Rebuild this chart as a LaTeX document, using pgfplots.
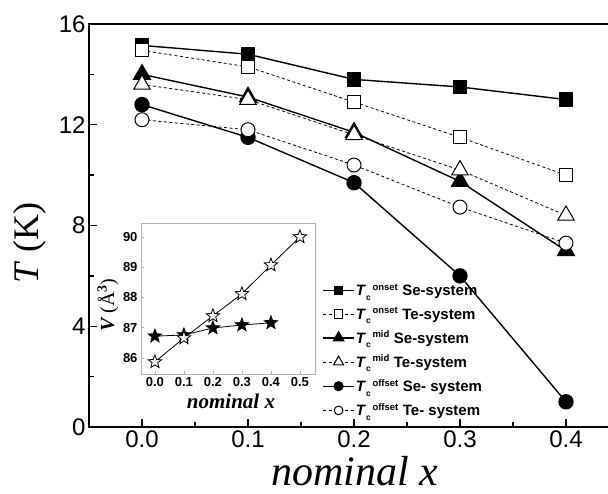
\documentclass[border=0pt]{standalone}
\usepackage{pgfplots}
\pgfplotsset{compat=1.18}
\usepackage{fontspec}
\setmainfont{Liberation Sans}
\newfontfamily\seriffont{Liberation Serif}

\pgfdeclareplotmark{starpoly}{%
  \pgfpathmoveto{\pgfpointpolar{90}{\pgfplotmarksize}}%
  \pgfpathlineto{\pgfpointpolar{126}{0.42\pgfplotmarksize}}%
  \pgfpathlineto{\pgfpointpolar{162}{\pgfplotmarksize}}%
  \pgfpathlineto{\pgfpointpolar{198}{0.42\pgfplotmarksize}}%
  \pgfpathlineto{\pgfpointpolar{234}{\pgfplotmarksize}}%
  \pgfpathlineto{\pgfpointpolar{270}{0.42\pgfplotmarksize}}%
  \pgfpathlineto{\pgfpointpolar{306}{\pgfplotmarksize}}%
  \pgfpathlineto{\pgfpointpolar{342}{0.42\pgfplotmarksize}}%
  \pgfpathlineto{\pgfpointpolar{18}{\pgfplotmarksize}}%
  \pgfpathlineto{\pgfpointpolar{54}{0.42\pgfplotmarksize}}%
  \pgfpathclose
  \pgfusepathqfillstroke}

\newcommand{\Tc}[1]{\textbf{\textit{T}}\rlap{\raisebox{-4.5bp}{\fontsize{8.5bp}{8.5bp}\selectfont\bfseries c}}\hspace{6.5bp}\raisebox{5.5bp}{\fontsize{9.5bp}{9.5bp}\selectfont\bfseries #1}\hspace{4.5bp}}

\begin{document}
\begin{tikzpicture}
\begin{axis}[
  at={(89bp,67bp)}, anchor=south west,
  width=530bp, height=403bp, scale only axis,
  xmin=-0.05, xmax=0.45, ymin=0, ymax=16,
  xtick={0,0.1,0.2,0.3,0.4}, xticklabels={0.0,0.1,0.2,0.3,0.4},
  minor xtick={0.05,0.15,0.25,0.35},
  ytick={0,4,8,12,16}, minor ytick={2,6,10,14},
  tick align=inside, xtick pos=bottom, ytick pos=left,
  major tick length=8bp, minor tick length=5bp,
  axis line style={line width=1.6bp},
  every tick/.style={black, line width=1.3bp},
  /pgf/number format/assume math mode=true,
  tick label style={font=\fontsize{24bp}{24bp}\selectfont},
  xlabel={\seriffont\itshape nominal x},
  ylabel={\seriffont\textit{T} (K)},
  xlabel style={at={(axis description cs:0.501,-0.146)}, anchor=base, font=\fontsize{42bp}{42bp}\selectfont},
  ylabel style={at={(axis description cs:-0.111,0.457)}, anchor=center, font=\fontsize{36bp}{36bp}\selectfont},
  legend style={draw=none, fill=none, at={(axis description cs:0.44,0.358)}, anchor=north west,
    font=\fontsize{15bp}{15bp}\selectfont\bfseries, inner sep=0pt, row sep=8.3bp,
    nodes={inner sep=1bp}},
  legend cell align=left,
  legend image code/.code={\draw[mark repeat=2,mark phase=2, every mark/.append style={scale=0.62}] plot coordinates {(0bp,0bp) (15.5bp,0bp) (31bp,0bp)};},
]
\addplot[black, line width=1.4bp, mark=square*, mark size=6.5bp, mark options={solid}]
  coordinates {(0,15.15)(0.1,14.8)(0.2,13.8)(0.3,13.5)(0.4,13.0)};
\addlegendentry{\Tc{onset}Se-system}
\addplot[black, line width=0.8bp, dash pattern=on 3bp off 2.5bp, mark=square*, mark size=6.5bp, mark options={solid, fill=white, line width=1bp}]
  coordinates {(0,14.95)(0.1,14.3)(0.2,12.9)(0.3,11.5)(0.4,10.0)};
\addlegendentry{\Tc{onset}Te-system}
\addplot[black, line width=1.4bp, mark=triangle*, mark size=9.5bp, mark options={solid}]
  coordinates {(0,14.0)(0.1,13.1)(0.2,11.7)(0.3,9.75)(0.4,7.0)};
\addlegendentry{\Tc{mid}Se-system}
\addplot[black, line width=0.8bp, dash pattern=on 3bp off 2.5bp, mark=triangle*, mark size=9.5bp, mark options={solid, fill=white, line width=1bp}]
  coordinates {(0,13.6)(0.1,13.0)(0.2,11.6)(0.3,10.2)(0.4,8.4)};
\addlegendentry{\Tc{mid}Te-system}
\addplot[black, line width=1.4bp, mark=*, mark size=7bp, mark options={solid}]
  coordinates {(0,12.8)(0.1,11.5)(0.2,9.7)(0.3,6.0)(0.4,1.0)};
\addlegendentry{\Tc{offset}Se- system}
\addplot[black, line width=0.8bp, dash pattern=on 3bp off 2.5bp, mark=*, mark size=7bp, mark options={solid, fill=white, line width=1bp}]
  coordinates {(0,12.2)(0.1,11.8)(0.2,10.4)(0.3,8.73)(0.4,7.3)};
\addlegendentry{\Tc{offset}Te- system}
\end{axis}

\begin{axis}[
  at={(141bp,120bp)}, anchor=south west,
  width=174bp, height=151bp, scale only axis,
  xmin=-0.048, xmax=0.552, ymin=85.47, ymax=90.46,
  axis background/.style={fill=white},
  axis line style={gray!60, line width=0.8bp},
  xtick={0,0.1,0.2,0.3,0.4,0.5}, xticklabels={0.0,0.1,0.2,0.3,0.4,0.5},
  ytick={86,87,88,89,90},
  tick align=inside, xtick pos=bottom, ytick pos=left,
  major tick length=3bp,
  every tick/.style={gray!60, line width=0.6bp},
  /pgf/number format/assume math mode=true,
  tick label style={font=\fontsize{13bp}{13bp}\selectfont\bfseries},
  xlabel={\seriffont\bfseries\itshape nominal x},
  ylabel={\seriffont\textbf{\textit{V}}\,(Å\textsuperscript{\textbf{3}})},
  xlabel style={at={(axis description cs:0.517,-0.18)}, anchor=center, font=\fontsize{21bp}{21bp}\selectfont},
  ylabel style={at={(axis description cs:-0.19,0.457)}, anchor=center, font=\fontsize{20bp}{20bp}\selectfont},
]
\addplot[black, line width=0.8bp, mark=starpoly, mark size=7bp, mark options={fill=black}]
  coordinates {(0,86.72)(0.1,86.76)(0.2,86.99)(0.3,87.09)(0.4,87.16)};
\addplot[black, line width=0.8bp, mark=starpoly, mark size=7bp, mark options={fill=white}]
  coordinates {(0,85.87)(0.1,86.66)(0.2,87.39)(0.3,88.12)(0.4,89.07)(0.5,90.0)};
\end{axis}
\pgfresetboundingbox
\path (0,0) rectangle (608bp,494bp);
\end{tikzpicture}
\end{document}
